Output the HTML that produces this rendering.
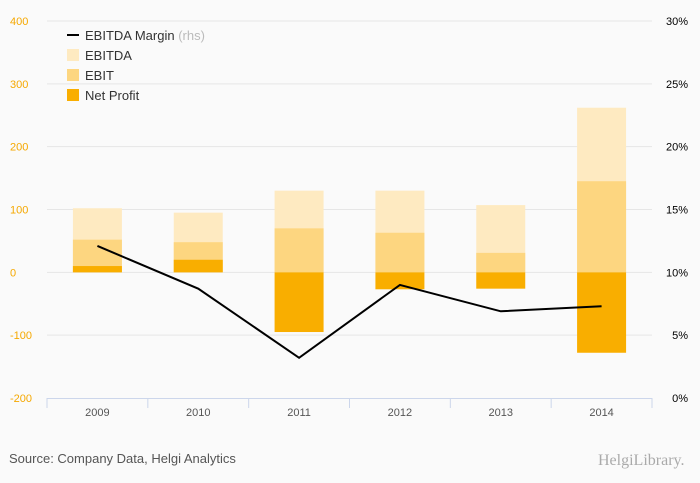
<!DOCTYPE html>
<html><head><meta charset="utf-8"><style>
body{margin:0;background:#fafafa;font-family:"Liberation Sans",sans-serif;}
svg{display:block}
</style></head><body>
<svg id="c" width="700" height="483">
<rect width="700" height="483" fill="#fafafa"/>
<g id="grid"></g><g id="bars"></g><g id="axes"></g><g id="line"></g>
<g font-size="13" fill="#333">
<line x1="67" y1="35" x2="79" y2="35" stroke="#000" stroke-width="2"/>
<text x="85" y="40">EBITDA Margin <tspan fill="#bbb">(rhs)</tspan></text>
<rect x="67" y="49" width="12" height="12" fill="#feeac1"/>
<text x="85" y="60">EBITDA</text>
<rect x="67" y="69" width="12" height="12" fill="#fdd680"/>
<text x="85" y="80">EBIT</text>
<rect x="67" y="89" width="12" height="12" fill="#f9ae00"/>
<text x="85" y="100">Net Profit</text>
</g>
<text x="9" y="463" font-size="13" fill="#555">Source: Company Data, Helgi Analytics</text>
<text x="598" y="465" font-size="16" fill="#aaa" font-family="Liberation Serif,serif">HelgiLibrary.</text>
</svg>
<script>
const categories=["2009","2010","2011","2012","2013","2014"];
const ebitda=[102,95,130,130,107,262];
const ebit=[52,48,70,63,31,145];
const netProfit=[10,20,-95,-27,-26,-128];
const margin=[12.1,8.7,3.2,9.0,6.9,7.3];
const leftTicks=[400,300,200,100,0,-100,-200];
const rightTicks=[30,25,20,15,10,5,0];
const NS="http://www.w3.org/2000/svg";
const X0=47,X1=652,Y0=398,Y1=21;
const yL=v=>Y0-(v+200)/600*(Y0-Y1);
const yR=v=>Y0-v/30*(Y0-Y1);
const band=(X1-X0)/categories.length;
const xc=i=>X0+band*(i+0.5);
function mk(t,a,p){const e=document.createElementNS(NS,t);for(const k in a)e.setAttribute(k,a[k]);document.getElementById(p).appendChild(e);return e;}
leftTicks.forEach((t,i)=>{
 if(t!==-200){const g=mk('line',{x1:X0,x2:X1,y1:yL(t),y2:yL(t),stroke:'#e6e6e6'},'grid');
 
 }
 const l=mk('text',{x:10,y:yL(t)+4,'font-size':11,fill:'#f5a800'},'axes');l.textContent=t;
 
 
});
rightTicks.forEach(t=>{
 const l=mk('text',{x:688,y:yR(t)+4,'font-size':11,fill:'#000','text-anchor':'end'},'axes');l.textContent=t+'%';
 
 
});
const ax=mk('line',{x1:X0,x2:X1,y1:Y0+0.5,y2:Y0+0.5,stroke:'#ccd6eb'},'axes');


for(let i=0;i<=categories.length;i++){
 const tk=mk('line',{x1:X0+band*i,x2:X0+band*i,y1:Y0,y2:Y0+10,stroke:'#ccd6eb'},'axes');
 
 
}
const bw=49;
categories.forEach((c,i)=>{
 const l=mk('text',{x:xc(i),y:416,'font-size':11,fill:'#555','text-anchor':'middle'},'axes');l.textContent=c;
 
 
 [[ebitda,'#feeac1','bar-ebitda'],[ebit,'#fdd680','bar-ebit'],[netProfit,'#f9ae00','bar-net-profit']].forEach(([arr,col,name])=>{
  const v=arr[i],y=Math.min(yL(v),yL(0)),h=Math.abs(yL(v)-yL(0));
  const r=mk('rect',{x:xc(i)-bw/2,y:y,width:bw,height:h,fill:col},'bars');
  
  
 });
});
const p=mk('polyline',{points:margin.map((v,i)=>xc(i)+','+yR(v)).join(' '),fill:'none',stroke:'#000','stroke-width':2},'line');


</script>
</body></html>
